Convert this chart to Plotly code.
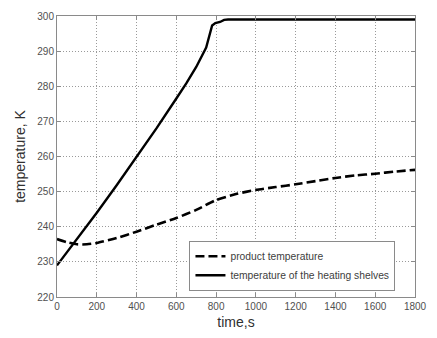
import plotly.graph_objects as go

# Shelf (heating plate) temperature, K, vs time, s
shelf_time = [0, 100, 147, 200, 300, 400, 500, 600, 650, 700, 750, 780, 796, 820, 840, 860, 1000, 1200, 1400, 1600, 1800]
shelf_temp = [229.0, 236.4, 240.0, 244.0, 251.8, 259.8, 268.0, 276.5, 280.8, 285.5, 291.0, 297.3, 298.0, 298.3, 298.9, 299.0, 299.0, 299.0, 299.0, 299.0, 299.0]

# Product temperature, K, vs time, s
product_time = [0, 50, 100, 150, 200, 300, 400, 500, 600, 700, 800, 900, 1000, 1100, 1200, 1300, 1400, 1500, 1600, 1700, 1800]
product_temp = [236.5, 235.6, 235.0, 235.0, 235.4, 236.8, 238.6, 240.6, 242.5, 244.8, 247.6, 249.3, 250.5, 251.3, 252.1, 253.0, 253.9, 254.6, 255.1, 255.7, 256.2]

x_ticks = list(range(0, 1801, 200))
y_ticks = list(range(220, 301, 10))

fig = go.Figure()
fig.add_trace(go.Scatter(
    x=product_time, y=product_temp, mode="lines",
    name="product temperature",
    line=dict(color="black", width=2.6, dash="9px,4px", shape="spline", smoothing=0.6),
))
fig.add_trace(go.Scatter(
    x=shelf_time, y=shelf_temp, mode="lines",
    name="temperature of the heating shelves",
    line=dict(color="black", width=2.4),
))

axis_common = dict(
    showline=True, linecolor="#8a8a8a", linewidth=1, mirror="allticks",
    ticks="inside", ticklen=4, tickcolor="#8a8a8a",
    showgrid=True, gridcolor="#9a9a9a", griddash="1px,2px", gridwidth=1,
    zeroline=False,
    tickfont=dict(family="Liberation Sans", size=10, color="#505050"),
)

fig.update_xaxes(
    range=[0, 1800], tickvals=x_ticks,
    title=dict(text="time,s", font=dict(family="Liberation Sans", size=14, color="#303030"), standoff=6),
    **axis_common,
)
fig.update_yaxes(
    range=[220, 300], tickvals=y_ticks,
    title=dict(text="temperature, K", font=dict(family="Liberation Sans", size=14, color="#303030"), standoff=8),
    **axis_common,
)

fig.update_layout(
    width=437, height=338,
    margin=dict(l=57, r=13, t=10, b=41),
    paper_bgcolor="white", plot_bgcolor="white",
    showlegend=True,
    legend=dict(
        x=0.37, y=0.20, xanchor="left", yanchor="top",
        bgcolor="white", bordercolor="#8a8a8a", borderwidth=1,
        font=dict(family="Liberation Sans", size=10.3, color="#404040"),
        tracegroupgap=0, itemwidth=30,
    ),
)

fig.write_html("out.html")
